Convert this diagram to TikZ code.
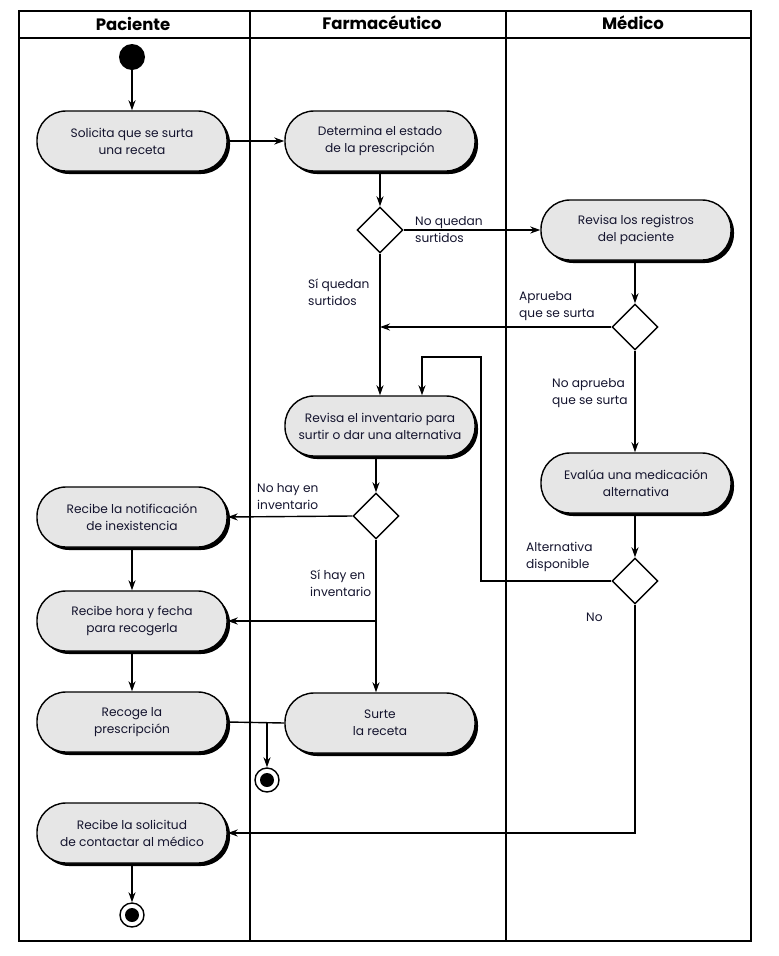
\documentclass[tikz,border=0pt]{standalone}
\usepackage{fontspec}
\setmainfont{Poppins}
\usetikzlibrary{shapes.geometric,shadows,arrows.meta}
\definecolor{nodefill}{HTML}{E6E6E6}
\definecolor{txt}{HTML}{14142E}
\begin{document}
\begin{tikzpicture}[x=1pt,y=-1pt,
 act/.style={draw=black, line width=1.4pt, fill=nodefill, rounded corners=29pt,
   minimum width=190pt, minimum height=60pt, align=center, text=txt,
   font=\fontsize{12.2}{17}\selectfont,
   drop shadow={shadow xshift=3pt, shadow yshift=-3pt, fill=black, opacity=1}},
 dec/.style={draw=black, line width=1.4pt, diamond, fill=white, minimum width=46pt,
   minimum height=46pt, inner sep=0pt, aspect=1},
 lbl/.style={anchor=west, align=left, text=txt, font=\fontsize{12.2}{17}\selectfont, inner sep=0pt},
 hdr/.style={text=black, font=\fontsize{16.5}{18}\selectfont\bfseries},
 flow/.style={line width=1.4pt, -{Stealth[length=10pt,width=7pt]}},
 conn/.style={line width=1.4pt},
 frame/.style={line width=1.6pt},
]
\useasboundingbox (0,0) rectangle (779,956);
% swimlanes
\draw[frame] (19,11) rectangle (751,941);
\draw[frame] (19,38) -- (751,38);
\draw[frame] (250,11) -- (250,941);
\draw[frame] (506,11) -- (506,941);
\node[hdr] (h1) at (133,24) {Paciente};
\node[hdr] (h2) at (382,23) {Farmacéutico};
\node[hdr] (h3) at (633,23) {Médico};
% start
\node[circle, fill=black, minimum size=26pt, inner sep=0pt] (start) at (132,57) {};
% activities
\node[act] (sol) at (132,141) {Solicita que se surta\\una receta};
\node[act] (det) at (380,141) {Determina el estado\\de la prescripción};
\node[act] (reg) at (636,230) {Revisa los registros\\del paciente};
\node[act] (inv) at (380,426) {Revisa el inventario para\\surtir o dar una alternativa};
\node[act] (eva) at (636,483) {Evalúa una medicación\\alternativa};
\node[act] (noti) at (132,517) {Recibe la notificación\\de inexistencia};
\node[act] (hora) at (132,621) {Recibe hora y fecha\\para recogerla};
\node[act] (reco) at (132,722) {Recoge la\\prescripción};
\node[act] (surte) at (380,723) {Surte\\la receta};
\node[act] (soli) at (132,833) {Recibe la solicitud\\de contactar al médico};
% decisions
\node[dec] (d1) at (380,230) {};
\node[dec] (d2) at (635,327) {};
\node[dec] (d3) at (635,581) {};
\node[dec] (d4) at (376,516) {};
% end nodes
\node[circle, draw=black, line width=1.4pt, fill=white, minimum size=24pt, inner sep=0pt] (end1) at (267,780) {};
\fill[black] (end1.center) circle (7pt);
\node[circle, draw=black, line width=1.4pt, fill=white, minimum size=24pt, inner sep=0pt] (end2) at (132,915) {};
\fill[black] (end2.center) circle (7pt);
% coordinates
\coordinate (m1) at (380,327);
\coordinate (l1) at (481,581);
\coordinate (l2) at (481,357);
\coordinate (l3) at (422,357);
\coordinate (b1) at (376,621);
\coordinate (j1) at (267,722);
\coordinate (c1) at (635,833);
% labels
\node[lbl] (t1) at (415,230) {No quedan\\surtidos};
\node[lbl] (t2) at (308,292) {Sí quedan\\surtidos};
\node[lbl] (t3) at (519,306) {Aprueba\\que se surta};
\node[lbl] (t4) at (552,393) {No aprueba\\que se surta};
\node[lbl] (t5) at (257,497) {No hay en\\inventario};
\node[lbl] (t6) at (310,583) {Sí hay en\\inventario};
\node[lbl] (t7) at (526,557) {Alternativa\\disponible};
\node[lbl] (t8) at (586,617) {No};
% connectors
\draw[flow] (start) -- (sol);
\draw[flow] (sol.east) -- (det.west);
\draw[flow] (det.south) -- (d1.north);
\draw[flow] (d1.east) -- (reg.west);
\draw[flow] (reg.south -| d2) -- (d2.north);
\draw[flow] (d2.west) -- (m1);
\draw[flow] (d1.south) -- (inv.north);
\draw[flow] (d2.south) -- (eva.north -| d2);
\draw[flow] (eva.south -| d3) -- (d3.north);
\draw[flow] (d3.west) -- (l1) -- (l2) -- (l3) -- (l3 |- inv.north);
\draw[flow] (d3.south) -- (c1) -- (soli.east);
\draw[flow] (inv.south -| d4) -- (d4.north);
\draw[flow] (d4.west) -- (noti.east);
\draw[flow] (d4.south) -- (d4.south |- surte.north);
\draw[flow] (b1) -- (hora.east);
\draw[flow] (noti) -- (hora);
\draw[flow] (hora) -- (reco);
\draw[conn] (reco.east) -- (surte.west);
\draw[flow] (j1) -- (end1);
\draw[flow] (soli) -- (end2);
\end{tikzpicture}
\end{document}
